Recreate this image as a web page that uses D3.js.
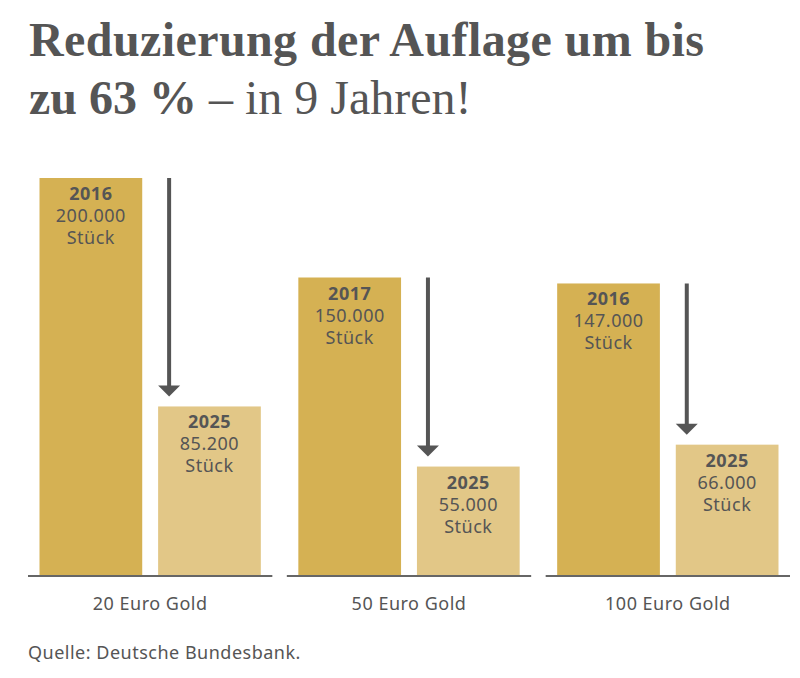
<!DOCTYPE html>
<html>
<head>
<meta charset="utf-8">
<script src="https://cdn.jsdelivr.net/npm/d3@7"></script>
<style>
  body { margin: 0; background: #fff; }
  svg text { fill: #555; }
</style>
</head>
<body>
<div id="chart"></div>
<script>
// Auflagen der Goldmuenzen, Werte aus den Balkenbeschriftungen
var coins = ['20 Euro Gold', '50 Euro Gold', '100 Euro Gold'];
var startYears = ['2016', '2017', '2016'];
var startValues = [200000, 150000, 147000];
var endYears = ['2025', '2025', '2025'];
var endValues = [85200, 55000, 66000];

var width = 800, height = 678;
var baseY = 576;
var sans = '"Noto Sans", sans-serif';

var svg = d3.select('#chart').append('svg')
    .attr('width', width)
    .attr('height', height);

//Title, two lines, first bold
var title = svg.append('text')
    .attr('font-family', '"Liberation Serif", serif')
    .attr('font-size', 48);
title.append('tspan').attr('x', 29).attr('y', 56)
    .attr('font-weight', 'bold')
    .attr('textLength', 675)
    .attr('lengthAdjust', 'spacing')
    .text('Reduzierung der Auflage um bis');
var l2 = title.append('tspan').attr('x', 29).attr('y', 114);
l2.append('tspan').attr('font-weight', 'bold').text('zu 63 %');
l2.append('tspan').text(' \u2013 in 9 Jahren!');

var x = d3.scaleBand()
    .domain(coins)
    .range([28, 790])
    .paddingInner(0.056);

var inner = d3.scaleBand()
    .domain([0, 1])
    .range([0, x.bandwidth()])
    .paddingInner(0.134)
    .paddingOuter(0.097);

var y = d3.scaleLinear()
    .domain([0, 200000])
    .range([baseY, 178]);

var fmt = d3.formatLocale({decimal: ',', thousands: '.', grouping: [3], currency: ['', '']}).format(',d');

var rows = coins.map(function(c, i) {
    return {
        coin: c,
        bars: [
            {slot: 0, year: startYears[i], value: startValues[i], color: '#D5B153'},
            {slot: 1, year: endYears[i], value: endValues[i], color: '#E2C787'}
        ]
    };
});

var g = svg.selectAll('.coin')
    .data(rows)
    .enter().append('g')
    .attr('class', 'coin')
    .attr('transform', function(d) { return 'translate(' + x(d.coin) + ',0)'; });

g.selectAll('rect')
    .data(function(d) { return d.bars; })
    .enter().append('rect')
    .attr('x', function(d) { return inner(d.slot); })
    .attr('y', function(d) { return y(d.value); })
    .attr('width', inner.bandwidth())
    .attr('height', function(d) { return baseY - y(d.value); })
    .attr('fill', function(d) { return d.color; });

var lab = g.selectAll('.lab')
    .data(function(d) { return d.bars; })
    .enter().append('text')
    .attr('class', 'lab')
    .attr('text-anchor', 'middle')
    .attr('font-family', sans)
    .attr('font-size', 18)
    .attr('letter-spacing', 0.5);
var cx = function(d) { return inner(d.slot) + inner.bandwidth() / 2; };
lab.append('tspan')
    .attr('x', cx)
    .attr('y', function(d) { return y(d.value) + 22; })
    .attr('font-weight', 'bold')
    .text(function(d) { return d.year; });
lab.append('tspan')
    .attr('x', cx)
    .attr('y', function(d) { return y(d.value) + 44; })
    .text(function(d) { return fmt(d.value); });
lab.append('tspan')
    .attr('x', cx)
    .attr('y', function(d) { return y(d.value) + 66; })
    .text('Stück');

//Arrows from the old to the new value
var ax = function() { return inner(1) + 11; };
g.append('line')
    .attr('x1', ax).attr('x2', ax)
    .attr('y1', function(d) { return y(d.bars[0].value); })
    .attr('y2', function(d) { return y(d.bars[1].value) - 16; })
    .attr('stroke', '#555')
    .attr('stroke-width', 4);
g.append('path')
    .attr('d', function(d) {
        var tip = y(d.bars[1].value) - 10, px = ax();
        return 'M' + (px - 11) + ',' + (tip - 11) + 'L' + (px + 11) + ',' + (tip - 11) + 'L' + px + ',' + tip + 'Z';
    })
    .attr('fill', '#555');

//Baseline and coin names
g.append('line')
    .attr('x1', 0).attr('x2', x.bandwidth())
    .attr('y1', baseY).attr('y2', baseY)
    .attr('stroke', '#666')
    .attr('stroke-width', 2);
g.append('text')
    .attr('x', x.bandwidth() / 2)
    .attr('y', 610)
    .attr('text-anchor', 'middle')
    .attr('font-family', sans)
    .attr('font-size', 18)
    .attr('letter-spacing', 0.5)
    .text(function(d) { return d.coin; });

svg.append('text')
    .attr('x', 28)
    .attr('y', 659)
    .attr('font-family', sans)
    .attr('font-size', 18)
    .attr('letter-spacing', 0.5)
    .text('Quelle: Deutsche Bundesbank.');
</script>
</body>
</html>
